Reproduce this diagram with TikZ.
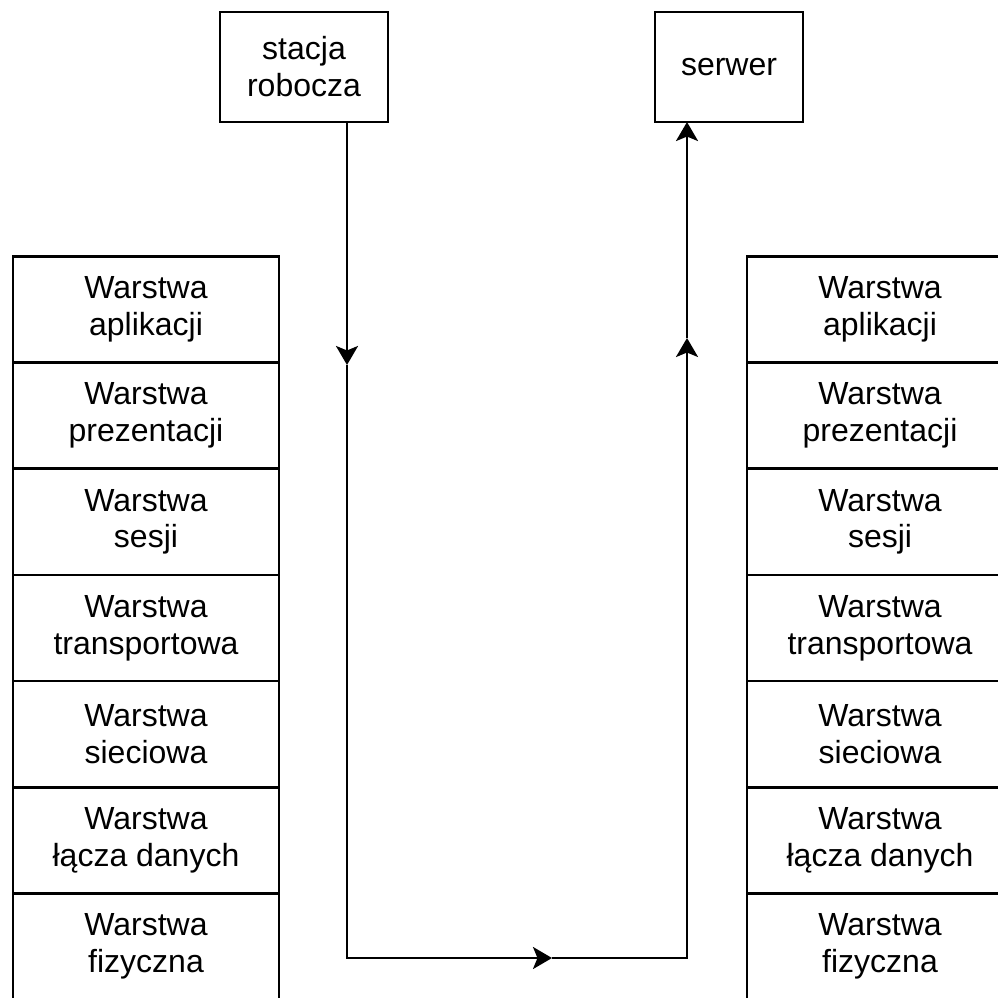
\documentclass[tikz,border=0pt]{standalone}
\usepackage{fontspec}
\setmainfont{Liberation Sans}
\usepackage{tikz}
\usetikzlibrary{positioning, arrows.meta}
\tikzset{
  layer/.style = {rectangle, draw, align=center, line width=0.75pt, minimum width=2.66cm, minimum height=1.061cm, inner sep=0pt, outer sep=0pt, font=\fontsize{9.1}{10.5}\selectfont},
  host/.style = {layer, minimum height=1.1cm},
  link/.style = {line width=0.75pt},
  linkarrow/.style = {link, -{Stealth[length=1.9mm, width=2.2mm, inset=0.45mm]}}
}

\begin{document}
\begin{tikzpicture}[x=0.01cm, y=-0.01cm]
    \useasboundingbox (0,0) rectangle (998,998);
    \node[host, minimum width=1.68cm] (stacja) at (304,67) {stacja\\robocza};
    \node[host, minimum width=1.48cm] (serwer) at (729,67) {serwer};

    \node[layer] (l1) at (146,309.5) {Warstwa\\aplikacji};
    \node[layer, below=0pt of l1] (l2) {Warstwa\\prezentacji};
    \node[layer, below=0pt of l2] (l3) {Warstwa\\sesji};
    \node[layer, below=0pt of l3] (l4) {Warstwa\\transportowa};
    \node[layer, below=0pt of l4] (l5) {Warstwa\\sieciowa};
    \node[layer, below=0pt of l5] (l6) {Warstwa\\łącza danych};
    \node[layer, below=0pt of l6] (l7) {Warstwa\\fizyczna};

    \node[layer] (r1) at (880,309.5) {Warstwa\\aplikacji};
    \node[layer, below=0pt of r1] (r2) {Warstwa\\prezentacji};
    \node[layer, below=0pt of r2] (r3) {Warstwa\\sesji};
    \node[layer, below=0pt of r3] (r4) {Warstwa\\transportowa};
    \node[layer, below=0pt of r4] (r5) {Warstwa\\sieciowa};
    \node[layer, below=0pt of r5] (r6) {Warstwa\\łącza danych};
    \node[layer, below=0pt of r6] (r7) {Warstwa\\fizyczna};

    \coordinate (d1) at (347,365);
    \coordinate (c1) at (347,958);
    \coordinate (d2) at (552,958);
    \coordinate (c2) at (687,958);
    \coordinate (d3) at (687,338);

    \draw[linkarrow] (stacja.south -| d1) -- (d1);
    \draw[linkarrow] (d1) -- (c1) -- (d2);
    \draw[linkarrow] (d2) -- (c2) -- (d3);
    \draw[linkarrow] (d3) -- (serwer.south -| d3);
\end{tikzpicture}
\end{document}
